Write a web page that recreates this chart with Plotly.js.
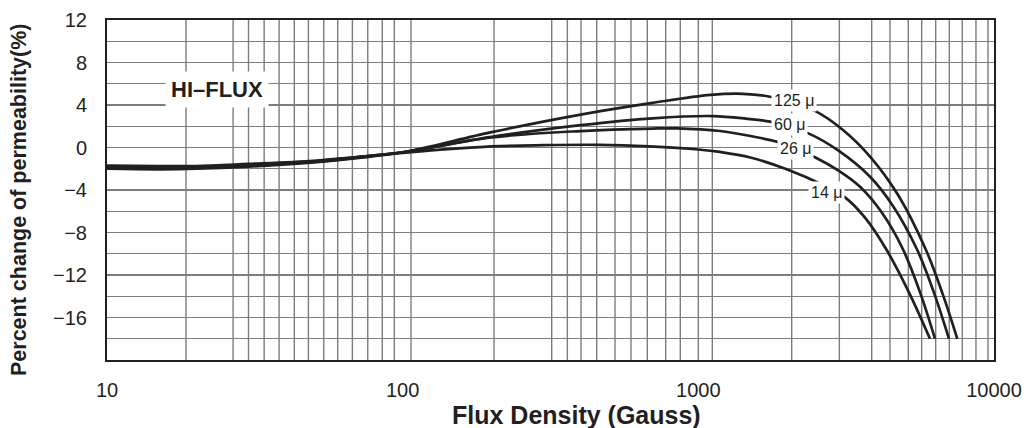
<!DOCTYPE html>
<html>
<head>
<meta charset="utf-8">
<script src="https://cdn.plot.ly/plotly-3.0.1.min.js"></script>
<style>html,body{margin:0;padding:0;background:#fff;}#chart{width:1026px;height:428px;}</style>
</head>
<body>
<div id="chart"></div>
<script>
// ---- data ----
const x125 = [10, 15, 20, 30, 50, 70, 100, 200, 400, 700, 1100, 1416, 1747, 2123, 2480, 3085, 3808, 4733, 5888, 6707, 7514];
const y125 = [-2.0, -2.05, -2.0, -1.8, -1.4, -1.0, -0.45, 1.45, 3.1, 4.2, 4.95, 5.05, 4.78, 4.1, 3.45, 1.65, -0.85, -4.45, -9.65, -13.8, -18.0];

const x60 = [10, 15, 20, 30, 50, 70, 100, 200, 400, 700, 1121, 1448, 1747, 2026, 2355, 2980, 3808, 4553, 5503, 6281, 7043];
const y60 = [-1.9, -1.95, -1.9, -1.7, -1.35, -0.95, -0.45, 1.0, 2.1, 2.75, 2.96, 2.72, 2.43, 1.9, 1.33, -0.3, -2.75, -5.5, -9.65, -13.75, -18.0];

const x26 = [10, 15, 20, 30, 50, 70, 100, 200, 400, 700, 847, 1184, 1500, 1841, 2123, 2480, 2980, 3523, 4180, 4934, 5649, 6315];
const y26 = [-1.8, -1.85, -1.8, -1.65, -1.3, -0.9, -0.45, 0.95, 1.55, 1.78, 1.8, 1.55, 1.08, 0.55, -0.09, -0.92, -2.18, -3.7, -6.15, -9.65, -13.8, -18.0];

const x14 = [10, 15, 20, 30, 50, 70, 100, 200, 300, 464, 683, 1000, 1184, 1500, 1990, 2640, 3134, 3662, 4335, 5170, 6074];
const y14 = [-1.7, -1.75, -1.75, -1.55, -1.25, -0.9, -0.5, 0.1, 0.22, 0.25, 0.1, -0.19, -0.42, -0.94, -2.05, -3.53, -4.69, -6.6, -9.65, -13.7, -18.0];

const seriesNames = ["125 μ", "60 μ", "26 μ", "14 μ"];
const labelX = [2106, 2026, 2123, 2703];
const labelY = [4.38, 2.12, -0.14, -4.19];

const xTickVals = [10, 100, 1000, 10000];
const xTickText = ["10", "100", "1000", "10000"];
const yTickVals = [-18, -16, -14, -12, -10, -8, -6, -4, -2, 0, 2, 4, 6, 8, 10, 12];
const yTickText = ["", "−16", "", "−12", "", "−8", "", "−4", "", "0", "", "4", "", "8", "", "12"];

// vertical grid lines of the printed chart paper (flux values)
const gridGauss = [18.5, 26.7, 30.1, 34.0, 38.2, 43.0, 48.0, 54.1, 60.3, 67.6, 76.2, 85.3, 93.7, 106.7,
  203.7, 319.2, 360.6, 401.1, 453.2, 522.6, 591.9, 672.1, 775.5, 868.9, 999.8, 1115,
  2069, 2999, 3858, 4448, 5130, 5693, 6350, 7061, 7811, 8690, 9544];

// ---- styling ----
const ink = "#231f20";
const gridCol = "#7d7d7d";
const fam = "Liberation Sans, Arial, Helvetica, sans-serif";

const xs = [x125, x60, x26, x14];
const ys = [y125, y60, y26, y14];
const traces = xs.map((x, i) => ({
  x: x, y: ys[i], name: seriesNames[i], type: "scatter", mode: "lines",
  line: {color: ink, width: 2.7, shape: "spline", smoothing: 1.0},
  hoverinfo: "skip", showlegend: false
}));

const shapes = gridGauss.map(g => ({
  type: "line", xref: "x", yref: "paper", x0: g, x1: g, y0: 0, y1: 1,
  line: {color: gridCol, width: 1.4}, layer: "below"
}));

const annotations = seriesNames.map((n, i) => ({
  x: Math.log10(labelX[i]), y: labelY[i], xref: "x", yref: "y",
  text: n, showarrow: false, bgcolor: "#ffffff", borderpad: 2,
  font: {family: fam, size: 16, color: ink}
}));
annotations.push({
  x: Math.log10(23.6), y: 5.5, xref: "x", yref: "y", text: "HI–FLUX", showarrow: false,
  bgcolor: "#ffffff", borderpad: 5, font: {family: fam, size: 22, color: ink, weight: "bold"}
});
// axis titles placed where the reference prints them
annotations.push({
  x: 0.5288, y: -0.162, xref: "paper", yref: "paper", xanchor: "center", yanchor: "middle",
  text: "Flux Density (Gauss)", showarrow: false,
  font: {family: fam, size: 25, color: ink, weight: "bold"}
});
annotations.push({
  x: -0.0992, y: 0.4706, xref: "paper", yref: "paper", xanchor: "center", yanchor: "middle",
  text: "Percent change of permeability(%)", showarrow: false, textangle: -90,
  font: {family: fam, size: 21.5, color: ink, weight: "bold"}
});

const layout = {
  width: 1026, height: 428,
  margin: {l: 107, r: 32, t: 20, b: 68},
  paper_bgcolor: "#ffffff", plot_bgcolor: "#ffffff",
  showlegend: false,
  xaxis: {
    type: "log", range: [1, 4], tickvals: xTickVals, ticktext: xTickText,
    showgrid: false, zeroline: false, ticks: "", ticklabelstandoff: 11,
    showline: true, mirror: true, linecolor: ink, linewidth: 2,
    tickfont: {family: fam, size: 20, color: ink},
    automargin: false,
    title: {text: ""}
  },
  yaxis: {
    range: [-20, 12], tickvals: yTickVals, ticktext: yTickText,
    showgrid: true, gridcolor: gridCol, gridwidth: 1.4, zeroline: false, ticks: "",
    ticklabelstandoff: 14,
    showline: true, mirror: true, linecolor: ink, linewidth: 2,
    tickfont: {family: fam, size: 20, color: ink},
    automargin: false,
    title: {text: ""}
  },
  shapes: shapes,
  annotations: annotations
};

Plotly.newPlot("chart", traces, layout, {staticPlot: true, displayModeBar: false});
</script>
</body>
</html>
